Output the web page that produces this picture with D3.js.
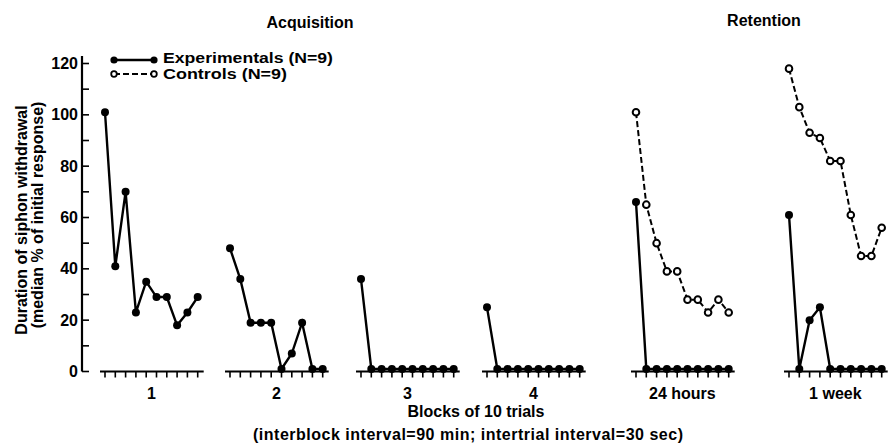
<!DOCTYPE html>
<html>
<head>
<meta charset="utf-8">
<script src="https://cdn.jsdelivr.net/npm/d3@7"></script>
<style>
    body { margin:0; background:#fff; }
    text { font-family:"Liberation Sans", Arial, sans-serif; font-weight:bold; fill:#000; }
</style>
</head>
<body>
<svg id="chart" width="889" height="444"></svg>
<script>
// Block labels along the x axis
var blocks = ["1", "2", "3", "4", "24 hours", "1 week"];
var trials = [1, 2, 3, 4, 5, 6, 7, 8, 9, 10];

// Median % of initial response, one list per block (trials 1..10)
var experimentals = [
    [101, 41, 70, 23, 35, 29, 29, 18, 23, 29],
    [48, 36, 19, 19, 19, 1, 7, 19, 1, 1],
    [36, 1, 1, 1, 1, 1, 1, 1, 1, 1],
    [25, 1, 1, 1, 1, 1, 1, 1, 1, 1],
    [66, 1, 1, 1, 1, 1, 1, 1, 1, 1],
    [61, 1, 20, 25, 1, 1, 1, 1, 1, 1]
];
// Controls were only tested in the retention blocks
var controls = [
    null, null, null, null,
    [101, 65, 50, 39, 39, 28, 28, 23, 28, 23],
    [118, 103, 93, 91, 82, 82, 61, 45, 45, 56]
];
var yTicks = [0, 10, 20, 30, 40, 50, 60, 70, 80, 90, 100, 110, 120];
var yLabels = [0, 20, 40, 60, 80, 100, 120];

var conf = {
    axisX: 82,
    y0: 371.5,
    y120: 63.5,
    // left edge of the first trial in every block
    blockStart: [105, 230, 361, 487, 636, 789],
    trialStep: 10.3,
    tickLen: 7
};

var svg = d3.select("#chart");

var y = d3.scaleLinear().domain([0, 120]).range([conf.y0, conf.y120]);

var blockScale = function(i){
    var s = conf.blockStart[i];
    return d3.scaleLinear().domain([1, 10]).range([s, s + 9 * conf.trialStep]);
};

// Y axis, ticks point inward
svg.append("line")
    .attr("x1", conf.axisX).attr("y1", conf.y0)
    .attr("x2", conf.axisX).attr("y2", 56)
    .attr("stroke", "#000").attr("stroke-width", 2.2);

svg.selectAll(".ytick").data(yTicks).enter().append("line")
    .attr("class", "ytick")
    .attr("x1", conf.axisX).attr("x2", conf.axisX + conf.tickLen)
    .attr("y1", function(d){ return y(d); })
    .attr("y2", function(d){ return y(d); })
    .attr("stroke", "#000").attr("stroke-width", 1.6);

svg.selectAll(".ylab").data(yLabels).enter().append("text")
    .attr("class", "ylab")
    .attr("x", conf.axisX - 4)
    .attr("y", function(d){ return y(d) + 5.5; })
    .attr("text-anchor", "end")
    .style("font-size", "16px")
    .text(function(d){ return d; });

// Y title, two lines
var ytitle = svg.append("g").attr("transform", "translate(22,220) rotate(-90)");
ytitle.append("text").attr("x", 0).attr("y", 5).attr("text-anchor", "middle")
    .style("font-size", "16px").text("Duration of siphon withdrawal");
ytitle.append("text").attr("x", 5).attr("y", 21).attr("text-anchor", "middle")
    .style("font-size", "16px").text("(median % of initial response)");

var lineGen = function(xs){
    return d3.line()
        .x(function(d, i){ return xs(trials[i]); })
        .y(function(d){ return y(d); });
};

blocks.forEach(function(name, b){
    var xs = blockScale(b);
    var g = svg.append("g");

    // Block axis with trial ticks
    g.append("line")
        .attr("x1", xs(1) - 5).attr("x2", xs(10) + 6)
        .attr("y1", conf.y0).attr("y2", conf.y0)
        .attr("stroke", "#000").attr("stroke-width", 2.2);
    g.selectAll(".xtick").data(trials).enter().append("line")
        .attr("class", "xtick")
        .attr("x1", function(d){ return xs(d); })
        .attr("x2", function(d){ return xs(d); })
        .attr("y1", conf.y0).attr("y2", conf.y0 + 6)
        .attr("stroke", "#000").attr("stroke-width", 1.6);
    g.append("text")
        .attr("x", (xs(1) + xs(10)) / 2)
        .attr("y", 399)
        .attr("text-anchor", "middle")
        .style("font-size", "16px")
        .text(name);

    // Controls: dashed line, open circles
    if(controls[b]){
        g.append("path")
            .attr("d", lineGen(xs)(controls[b]))
            .attr("fill", "none").attr("stroke", "#000")
            .attr("stroke-width", 2).attr("stroke-dasharray", "6,3");
        g.selectAll(".ctrl").data(controls[b]).enter().append("circle")
            .attr("class", "ctrl")
            .attr("cx", function(d, i){ return xs(trials[i]); })
            .attr("cy", function(d){ return y(d); })
            .attr("r", 3.3)
            .attr("fill", "#fff").attr("stroke", "#000").attr("stroke-width", 2);
    }

    // Experimentals: solid line, filled circles
    g.append("path")
        .attr("d", lineGen(xs)(experimentals[b]))
        .attr("fill", "none").attr("stroke", "#000").attr("stroke-width", 2.4);
    g.selectAll(".exp").data(experimentals[b]).enter().append("circle")
        .attr("class", "exp")
        .attr("cx", function(d, i){ return xs(trials[i]); })
        .attr("cy", function(d){ return y(d); })
        .attr("r", 4)
        .attr("fill", "#000");
});

// Legend
var legend = svg.append("g");
legend.append("line").attr("x1", 114).attr("x2", 154).attr("y1", 60).attr("y2", 60)
    .attr("stroke", "#000").attr("stroke-width", 2.4);
legend.selectAll(".lexp").data([114, 154]).enter().append("circle")
    .attr("cx", function(d){ return d; }).attr("cy", 60).attr("r", 3.6).attr("fill", "#000");
legend.append("text").attr("x", 163).attr("y", 63).style("font-size", "14px")
    .attr("textLength", 170).attr("lengthAdjust", "spacingAndGlyphs")
    .text("Experimentals (N=9)");
legend.append("line").attr("x1", 114).attr("x2", 154).attr("y1", 74).attr("y2", 74)
    .attr("stroke", "#000").attr("stroke-width", 2).attr("stroke-dasharray", "6,3");
legend.selectAll(".lctl").data([114, 154]).enter().append("circle")
    .attr("cx", function(d){ return d; }).attr("cy", 74).attr("r", 2.8)
    .attr("fill", "#fff").attr("stroke", "#000").attr("stroke-width", 1.8);
legend.append("text").attr("x", 163).attr("y", 79).style("font-size", "14px")
    .attr("textLength", 124).attr("lengthAdjust", "spacingAndGlyphs")
    .text("Controls (N=9)");

// Section titles and x titles
svg.append("text").attr("x", 310).attr("y", 28).attr("text-anchor", "middle")
    .style("font-size", "16px").text("Acquisition");
svg.append("text").attr("x", 764).attr("y", 26).attr("text-anchor", "middle")
    .style("font-size", "16px").text("Retention");
svg.append("text").attr("x", 476).attr("y", 417).attr("text-anchor", "middle")
    .style("font-size", "16px").text("Blocks of 10 trials");
svg.append("text").attr("x", 468).attr("y", 440).attr("text-anchor", "middle")
    .style("font-size", "16px").attr("textLength", 430)
    .text("(interblock interval=90 min; intertrial interval=30 sec)");
</script>
</body>
</html>
